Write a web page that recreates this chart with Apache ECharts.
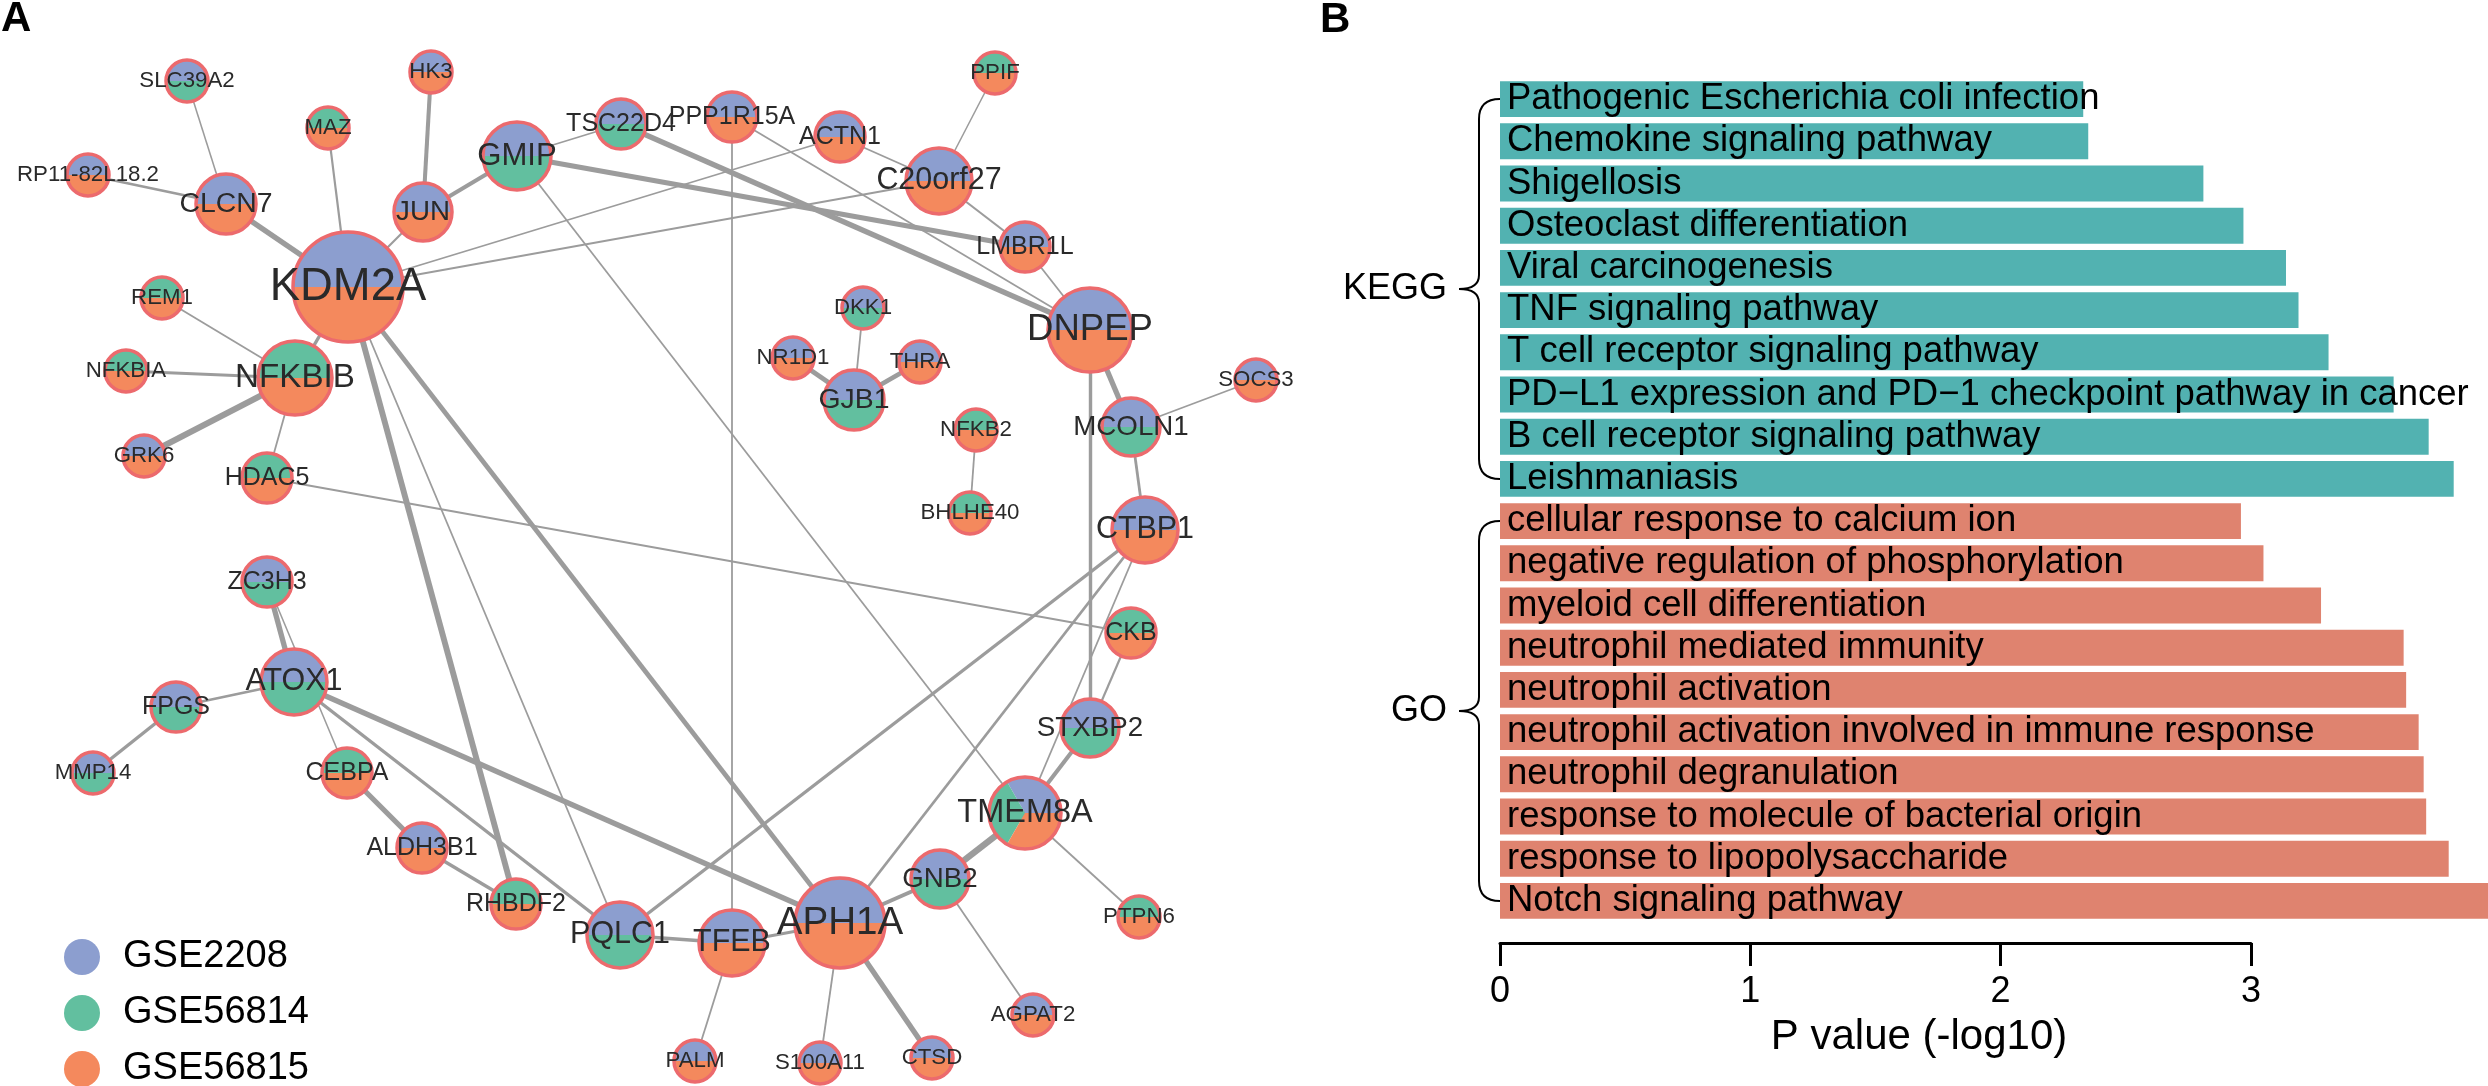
<!DOCTYPE html>
<html><head><meta charset="utf-8">
<script src="https://cdn.jsdelivr.net/npm/echarts/dist/echarts.min.js"></script>
<style>html,body{margin:0;padding:0;background:#fff}#main{width:2488px;height:1086px}</style>
</head><body><div id="main"></div>
<script>
const FONT = "'Liberation Sans', Arial, Helvetica, sans-serif";

// ---------- Panel A: network data ----------
const nodeNames = ['KDM2A','CLCN7','SLC39A2','RP11-82L18.2','MAZ','HK3','JUN','GMIP','TSC22D4','PPP1R15A',
  'ACTN1','PPIF','C20orf27','LMBR1L','DNPEP','SOCS3','MCOLN1','CTBP1','CKB','STXBP2',
  'TMEM8A','PTPN6','GNB2','AGPAT2','CTSD','S100A11','APH1A','TFEB','PALM','PQLC1',
  'RHBDF2','ALDH3B1','CEBPA','ATOX1','ZC3H3','FPGS','MMP14','HDAC5','GRK6','NFKBIA',
  'REM1','NFKBIB','DKK1','NR1D1','THRA','GJB1','NFKB2','BHLHE40'];
// layout coordinates
const nodeX = [34.8,22.6,18.7,8.8,32.8,43.1,42.3,51.7,62.1,73.2,
  84.0,99.5,93.9,102.5,109.0,125.6,113.1,114.5,113.1,109.0,
  102.5,113.9,94.0,103.3,93.2,82.0,84.0,73.2,69.5,62.0,
  51.6,42.2,34.7,29.4,26.7,17.6,9.3,26.7,14.4,12.6,
  16.2,29.5,86.3,79.3,92.0,85.4,97.6,97.0];
const nodeY = [28.7,20.4,8.1,17.5,12.8,7.2,21.2,15.6,12.4,11.7,
  13.7,7.3,18.1,24.7,33.0,38.0,42.7,53.0,63.3,72.8,
  81.3,91.7,87.9,101.5,105.8,106.3,92.3,94.3,106.1,93.5,
  90.4,84.8,77.3,68.2,58.2,70.7,77.3,47.8,45.6,37.1,
  29.8,37.8,30.8,35.8,36.2,40.0,43.0,51.3];
// node importance score (drives node size)
const nodeScore = [9.5,3.25,1,1,1,1,3,4.25,2,2,
  2,1,4,2,6.25,1,3,4,2,3,
  4.75,1,3,1,1,1,7,4,1,4,
  2,2,2,4,2,2,1,2,1,1,
  1,5,1,1,1,3.25,1,1];

const datasetNames = ['GSE2208','GSE56814','GSE56815'];
const gse2208 = ['KDM2A','CLCN7','SLC39A2','RP11-82L18.2','HK3','JUN','GMIP','TSC22D4','PPP1R15A','ACTN1',
  'C20orf27','LMBR1L','DNPEP','SOCS3','MCOLN1','CTBP1','STXBP2','TMEM8A','GNB2','AGPAT2','CTSD','S100A11',
  'APH1A','TFEB','PALM','PQLC1','ALDH3B1','ATOX1','ZC3H3','FPGS','MMP14','GRK6','DKK1','NR1D1','THRA','GJB1'];
const gse56814 = ['SLC39A2','MAZ','GMIP','TSC22D4','PPIF','MCOLN1','CKB','STXBP2','TMEM8A','PTPN6','GNB2',
  'PQLC1','RHBDF2','CEBPA','ATOX1','ZC3H3','FPGS','MMP14','HDAC5','NFKBIA','REM1','NFKBIB','DKK1','GJB1',
  'NFKB2','BHLHE40'];
const gse56815 = ['KDM2A','CLCN7','RP11-82L18.2','MAZ','HK3','JUN','PPP1R15A','ACTN1','PPIF','C20orf27',
  'LMBR1L','DNPEP','SOCS3','CTBP1','CKB','TMEM8A','PTPN6','AGPAT2','CTSD','S100A11','APH1A','TFEB','PALM',
  'RHBDF2','ALDH3B1','CEBPA','HDAC5','GRK6','NFKBIA','REM1','NFKBIB','NR1D1','THRA','NFKB2','BHLHE40'];

// [source, target, interaction weight]
const edges = [
  ['SLC39A2','CLCN7',1],['RP11-82L18.2','CLCN7',2],['CLCN7','KDM2A',4],['MAZ','KDM2A',1.5],
  ['HK3','JUN',3],['JUN','GMIP',3],['JUN','KDM2A',1.5],['GMIP','TSC22D4',1.2],['GMIP','LMBR1L',4],
  ['GMIP','TMEM8A',1.2],['TSC22D4','DNPEP',4],['KDM2A','ACTN1',1.2],['KDM2A','C20orf27',1.2],
  ['PPP1R15A','DNPEP',1.2],['PPP1R15A','TFEB',1.2],['ACTN1','C20orf27',1.2],['PPIF','C20orf27',1],
  ['C20orf27','LMBR1L',1.5],['LMBR1L','DNPEP',1.2],['DNPEP','MCOLN1',4],['DNPEP','STXBP2',2.5],
  ['SOCS3','MCOLN1',1.2],['MCOLN1','CTBP1',2],['CTBP1','PQLC1',2.5],['CTBP1','APH1A',2],
  ['CTBP1','TMEM8A',1.2],['HDAC5','CKB',1.2],['CKB','STXBP2',1.5],['STXBP2','TMEM8A',3],
  ['TMEM8A','GNB2',5],['TMEM8A','PTPN6',1.2],['GNB2','APH1A',3],['GNB2','AGPAT2',1.2],
  ['APH1A','CTSD',4],['APH1A','S100A11',1.2],['APH1A','TFEB',2],['TFEB','PQLC1',2.5],
  ['TFEB','PALM',1.2],['KDM2A','APH1A',3.5],['ATOX1','APH1A',4],['KDM2A','RHBDF2',4.5],
  ['KDM2A','PQLC1',1.2],['NFKBIB','KDM2A',2.5],['NFKBIB','REM1',1.2],['NFKBIB','NFKBIA',2],
  ['NFKBIB','GRK6',4.5],['NFKBIB','HDAC5',1.2],['ZC3H3','ATOX1',4],['ZC3H3','CEBPA',1],
  ['ATOX1','FPGS',2],['FPGS','MMP14',2.5],['ATOX1','PQLC1',2.5],['CEBPA','ALDH3B1',4],
  ['ALDH3B1','RHBDF2',2.5],['GJB1','DKK1',1.2],['GJB1','NR1D1',3.5],['GJB1','THRA',3.5],
  ['NFKB2','BHLHE40',1.2]
];

// ---------- Panel B: enrichment data ----------
const keggTerms = ['Pathogenic Escherichia coli infection','Chemokine signaling pathway','Shigellosis',
  'Osteoclast differentiation','Viral carcinogenesis','TNF signaling pathway',
  'T cell receptor signaling pathway','PD\u2212L1 expression and PD\u22121 checkpoint pathway in cancer',
  'B cell receptor signaling pathway','Leishmaniasis'];
const keggValues = [2.33,2.35,2.81,2.97,3.14,3.19,3.31,3.57,3.71,3.81];
const goTerms = ['cellular response to calcium ion','negative regulation of phosphorylation',
  'myeloid cell differentiation','neutrophil mediated immunity','neutrophil activation',
  'neutrophil activation involved in immune response','neutrophil degranulation',
  'response to molecule of bacterial origin','response to lipopolysaccharide','Notch signaling pathway'];
const goValues = [2.96,3.05,3.28,3.61,3.62,3.67,3.69,3.70,3.79,3.96];
const xTicks = [0,1,2,3];

// ---------- styling ----------
const setColors = ['#8c9ecf','#62bf9f','#f4895d'];
const borderColor = '#ec6a6d';
const edgeColor = '#9c9c9c';
const keggColor = '#52b2b1', goColor = '#df836f';
const sets = [gse2208, gse56814, gse56815];
const radius = s => 17 + 4*s;
const labelSize = s => 8 + 0.68*radius(s);
const edgeWidth = w => 0.3 + 1.25*w;

const chart = echarts.init(document.getElementById('main'));
const barMax = 3.947, barLeft = 1500, barWidth = 988;
const categories = keggTerms.concat(goTerms);
const barData = keggValues.map(v => ({value: v, itemStyle: {color: keggColor}}))
  .concat(goValues.map(v => ({value: v, itemStyle: {color: goColor}})));
const nodeData = nodeNames.map((n, i) => [nodeX[i], nodeY[i], i]);

const option = {
  animation: false,
  textStyle: {fontFamily: FONT},
  grid: [
    {left: 0, top: 0, width: 1300, height: 1086},
    {left: barLeft, top: 78, width: barWidth, height: 844},
    {left: barLeft, top: 900, width: barWidth * (xTicks[xTicks.length-1] - xTicks[0]) / barMax, height: 43}
  ],
  xAxis: [
    {gridIndex: 0, type: 'value', min: 0, max: 130, show: false},
    {gridIndex: 1, type: 'value', min: 0, max: barMax, show: false},
    {gridIndex: 2, type: 'value', min: xTicks[0], max: xTicks[xTicks.length-1], interval: 1,
      axisLine: {show: true, onZero: false, lineStyle: {color: '#000', width: 3}},
      axisTick: {show: true, length: 23, lineStyle: {color: '#000', width: 3}},
      axisLabel: {fontSize: 36, color: '#000', margin: 31, fontFamily: FONT},
      splitLine: {show: false}}
  ],
  yAxis: [
    {gridIndex: 0, type: 'value', min: 0, max: 108.6, inverse: true, show: false},
    {gridIndex: 1, type: 'category', data: categories, inverse: true, show: false},
    {gridIndex: 2, type: 'value', show: false}
  ],
  legend: datasetNames.map((n, k) => ({
    orient: 'vertical', left: 59, top: 933 + 56 * k, itemWidth: 36, itemHeight: 36,
    icon: 'circle', selectedMode: false,
    textStyle: {fontSize: 38, color: '#000', fontFamily: FONT, padding: [0, 0, 0, 18]},
    data: [n]
  })),
  series: [
    {
      type: 'graph', coordinateSystem: 'cartesian2d', xAxisIndex: 0, yAxisIndex: 0,
      silent: true, z: 1, symbolSize: 1, itemStyle: {opacity: 0}, label: {show: false},
      lineStyle: {color: edgeColor, opacity: 1, curveness: 0},
      data: nodeNames.map((n, i) => ({name: n, value: [nodeX[i], nodeY[i]]})),
      links: edges.map(e => ({source: e[0], target: e[1], lineStyle: {width: edgeWidth(e[2])}}))
    },
    {
      type: 'custom', coordinateSystem: 'cartesian2d', xAxisIndex: 0, yAxisIndex: 0,
      silent: true, z: 2, clip: false, data: nodeData, encode: {x: 0, y: 1},
      renderItem: function (params, api) {
        const i = api.value(2);
        const p = api.coord([api.value(0), api.value(1)]);
        const r = radius(nodeScore[i]);
        const present = [];
        sets.forEach((s, k) => { if (s.indexOf(nodeNames[i]) >= 0) present.push(k); });
        const step = 2 * Math.PI / present.length;
        const children = present.map((c, k) => ({
          type: 'sector',
          shape: {cx: p[0], cy: p[1], r: r, r0: 0, startAngle: -(k + 1) * step, endAngle: -k * step, clockwise: true},
          style: {fill: setColors[c]}
        }));
        children.push({type: 'circle', shape: {cx: p[0], cy: p[1], r: r},
          style: {fill: null, stroke: borderColor, lineWidth: 3.5}});
        return {type: 'group', children: children};
      }
    },
    {
      type: 'custom', coordinateSystem: 'cartesian2d', xAxisIndex: 0, yAxisIndex: 0,
      silent: true, z: 3, clip: false, data: nodeData, encode: {x: 0, y: 1},
      renderItem: function (params, api) {
        const i = api.value(2);
        const p = api.coord([api.value(0), api.value(1)]);
        return {type: 'text', x: p[0], y: p[1],
          style: {text: nodeNames[i], fontSize: labelSize(nodeScore[i]), fontFamily: FONT,
            fill: '#2a2a2a', align: 'center', verticalAlign: 'middle'}};
      }
    },
    {
      type: 'bar', xAxisIndex: 1, yAxisIndex: 1, data: barData, barCategoryGap: '15%', silent: true,
      label: {show: true, position: 'insideLeft', distance: 7, formatter: '{b}', fontSize: 36.5,
        color: '#000', fontFamily: FONT}
    }
  ].concat(datasetNames.map((n, k) => ({type: 'scatter', name: n, data: [],
    itemStyle: {color: setColors[k], opacity: 1}})))
};
chart.setOption(option);

// Braces and group labels positioned from the category axis
const yc = c => chart.convertToPixel({yAxisIndex: 1}, c);
const braceStyle = {stroke: '#000', lineWidth: 2, fill: null};
function brace(y1, y2) {
  const ym = (y1 + y2) / 2, xr = barLeft, xv = barLeft - 21, xt = barLeft - 41;
  const curve = (x1, yy1, cx, cy, x2, yy2) => ({type: 'bezierCurve', silent: true,
    shape: {x1: x1, y1: yy1, cpx1: cx, cpy1: cy, x2: x2, y2: yy2}, style: braceStyle});
  const line = (x1, yy1, x2, yy2) => ({type: 'line', silent: true,
    shape: {x1: x1, y1: yy1, x2: x2, y2: yy2}, style: braceStyle});
  return [
    curve(xr, y1, xv, y1, xv, y1 + 20),
    line(xv, y1 + 20, xv, ym - 14),
    curve(xv, ym - 14, xv, ym, xt, ym),
    curve(xt, ym, xv, ym, xv, ym + 14),
    line(xv, ym + 14, xv, y2 - 20),
    curve(xv, y2 - 20, xv, y2, xr, y2)
  ];
}
const groups = [['KEGG', keggTerms], ['GO', goTerms]];
let graphics = [];
groups.forEach(g => {
  const y1 = yc(g[1][0]), y2 = yc(g[1][g[1].length - 1]);
  graphics = graphics.concat(brace(y1, y2));
  graphics.push({type: 'text', x: barLeft - 53, y: (y1 + y2) / 2, silent: true,
    style: {text: g[0], fontSize: 36, fill: '#000', align: 'right', verticalAlign: 'middle', fontFamily: FONT}});
});
graphics.push({type: 'text', x: 1919, y: 1037, silent: true,
  style: {text: 'P value (-log10)', fontSize: 42, fill: '#000', align: 'center', verticalAlign: 'middle', fontFamily: FONT}});
graphics.push({type: 'text', x: 1, y: 19, silent: true,
  style: {text: 'A', fontSize: 42, fontWeight: 'bold', fill: '#000', align: 'left', verticalAlign: 'middle', fontFamily: FONT}});
graphics.push({type: 'text', x: 1320, y: 20, silent: true,
  style: {text: 'B', fontSize: 42, fontWeight: 'bold', fill: '#000', align: 'left', verticalAlign: 'middle', fontFamily: FONT}});
chart.setOption({graphic: graphics});
</script></body></html>
